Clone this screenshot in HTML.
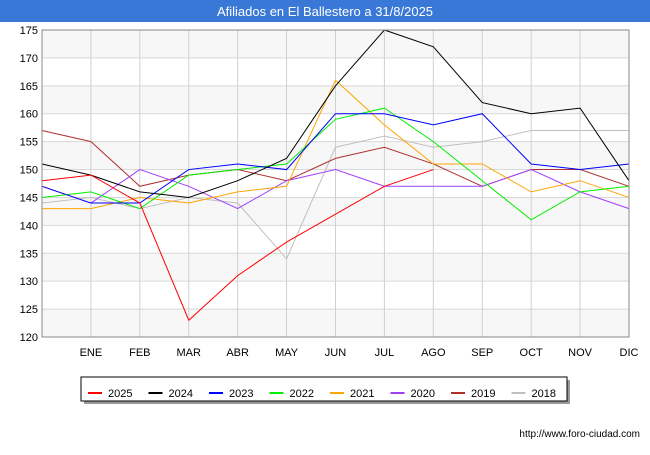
<!DOCTYPE html>
<html><head><meta charset="utf-8"><style>
body{margin:0;width:650px;height:450px;background:#fff;font-family:"Liberation Sans",sans-serif;overflow:hidden}
</style></head><body>
<svg width="650" height="450" xmlns="http://www.w3.org/2000/svg" id="chart">
<rect x="0" y="0" width="650" height="22" fill="#3a78d8"/>
<text x="325" y="16" text-anchor="middle" fill="#fff" font-size="13">Afiliados en El Ballestero a 31/8/2025</text>
<g id="grid"></g><g id="series"></g><g id="axes"></g>
<g id="legend">
<rect x="84" y="380" width="486" height="24" fill="#999"/>
<rect x="81" y="377" width="486" height="24" fill="#fff" stroke="#000" stroke-width="1"/>
</g>
<text x="640" y="437" text-anchor="end" font-size="10" fill="#000">http://www.foro-ciudad.com</text>
</svg>
<script>
const months=["","ENE","FEB","MAR","ABR","MAY","JUN","JUL","AGO","SEP","OCT","NOV","DIC"];
const yTicks=[120,125,130,135,140,145,150,155,160,165,170,175];
const seriesNames=["2025","2024","2023","2022","2021","2020","2019","2018"];
const colors=["#ff0000","#000000","#0000ff","#00ee00","#ffa500","#a040ff","#b03030","#c0c0c0"];
const s2025=[148,149,144,123,131,137,142,147,150];
const s2024=[151,149,146,145,148,152,165,175,172,162,160,161,148];
const s2023=[147,144,144,150,151,150,160,160,158,160,151,150,151];
const s2022=[145,146,143,149,150,151,159,161,155,148,141,146,147];
const s2021=[143,143,145,144,146,147,166,158,151,151,146,148,145];
const s2020=[147,144,150,147,143,148,150,147,147,147,150,146,143];
const s2019=[157,155,147,149,150,148,152,154,151,147,150,150,147];
const s2018=[144,145,143,145,144,134,154,156,154,155,157,157,157];
const allSeries=[s2025,s2024,s2023,s2022,s2021,s2020,s2019,s2018];
const NS="http://www.w3.org/2000/svg";
const X0=42,X1=629,Y0=337,Y1=30;
const xs=i=>X0+i*(X1-X0)/12;
const ys=v=>Y0-(v-120)*(Y0-Y1)/55;
function mk(t,a,p){const e=document.createElementNS(NS,t);for(const k in a)e.setAttribute(k,a[k]);p.appendChild(e);return e;}
const grid=document.getElementById('grid'),axes=document.getElementById('axes'),ser=document.getElementById('series'),leg=document.getElementById('legend');
for(let i=0;i<yTicks.length-1;i++){if(i%2==0){const b=mk('rect',{x:X0,y:ys(yTicks[i+1]),width:X1-X0,height:ys(yTicks[i])-ys(yTicks[i+1]),fill:'#f7f7f7'},grid);
}}
yTicks.forEach(v=>{const l=mk('line',{x1:X0,x2:X1,y1:ys(v),y2:ys(v),stroke:'#d8d8d8'},grid);

const t=mk('text',{x:X0-4,y:ys(v)+4,'text-anchor':'end','font-size':'11',fill:'#000'},axes);t.textContent=v;
});
months.forEach((m,i)=>{const l=mk('line',{x1:xs(i),x2:xs(i),y1:Y1,y2:Y0,stroke:'#d0d0d0'},grid);

if(m){const t=mk('text',{x:xs(i),y:356,'text-anchor':'middle','font-size':'11',fill:'#000'},axes);t.textContent=m;
}});
mk('rect',{x:X0,y:Y1,width:X1-X0,height:Y0-Y1,fill:'none',stroke:'#888'},axes);
for(let k=allSeries.length-1;k>=0;k--){const d=allSeries[k];
const p=mk('polyline',{points:d.map((v,i)=>xs(i)+','+ys(v)).join(' '),fill:'none',stroke:colors[k],'stroke-width':1},ser);

}
seriesNames.forEach((n,k)=>{const x=88+k*60.5;
const l=mk('line',{x1:x,x2:x+14,y1:393,y2:393,stroke:colors[k],'stroke-width':2},leg);

const t=mk('text',{x:x+20,y:397,'font-size':'11',fill:'#000'},leg);t.textContent=n;
});
</script>
</body></html>
